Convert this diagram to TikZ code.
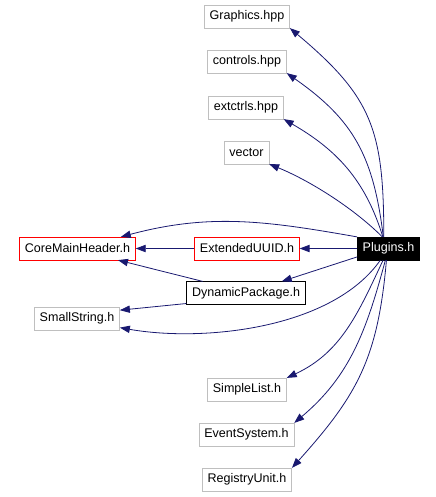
\documentclass[tikz,border=0pt]{standalone}
\usepackage{fontspec}
\setmainfont{Liberation Sans}
\usetikzlibrary{arrows.meta}

\definecolor{edgeblue}{RGB}{25,25,112}
\definecolor{boxgray}{RGB}{191,191,191}

\begin{document}
\begin{tikzpicture}[x=0.75pt, y=0.75pt,
    >={Triangle[length=7.5pt, width=5.5pt]},
    file/.style={draw=boxgray, font=\fontsize{9.4}{11}\selectfont,
      inner xsep=4pt, inner ysep=0pt, minimum height=17pt},
    redfile/.style={file, draw=red},
    blackfile/.style={file, draw=black},
    mainfile/.style={file, draw=black, fill=black, text=white},
    dep/.style={->, edgeblue, line width=0.6pt}]
  \useasboundingbox (0,0) rectangle (436,-497);
  % Headers included by Plugins.h
  \node[file] (graphics) at (247,-16.5) {Graphics.hpp};
  \node[file] (controls) at (247,-61.5) {controls.hpp};
  \node[file] (extctrls) at (246,-107.5) {extctrls.hpp};
  \node[file] (vector) at (246.5,-152.5) {vector};
  \node[redfile] (coremain) at (77.5,-248.5) {CoreMainHeader.h};
  \node[redfile] (extuuid) at (247,-248.5) {ExtendedUUID.h};
  \node[mainfile] (plugins) at (388.5,-248.5) {Plugins.h};
  \node[blackfile] (dynpkg) at (246,-293) {DynamicPackage.h};
  \node[file] (smallstr) at (77,-318.5) {SmallString.h};
  \node[file] (simplelist) at (247,-389.5) {SimpleList.h};
  \node[file] (eventsys) at (246.5,-434.5) {EventSystem.h};
  \node[file] (registry) at (247,-479.5) {RegistryUnit.h};
  % Upper fan
  \draw[dep] (plugins.112) to[out=90, in=-40, looseness=1.2] (graphics.south east);
  \draw[dep] (plugins.114) to[out=97, in=-35, looseness=1.1] (controls.south east);
  \draw[dep] (plugins.116) to[out=107, in=-30] (extctrls.south east);
  \draw[dep] (plugins.118) to[out=135, in=-22, looseness=0.8] (vector.south east);
  % Middle row
  \draw[dep] (plugins.north west) to[out=170, in=15] (coremain.15);
  \draw[dep] (plugins) -- (extuuid);
  \draw[dep] (extuuid) -- (coremain);
  \draw[dep] (plugins.195) -- (dynpkg.18);
  \draw[dep] (dynpkg.165) -- (coremain.-16);
  \draw[dep] (dynpkg.190) -- (smallstr.11);
  \draw[dep] (plugins.-125) to[out=-125, in=-10, looseness=0.8] (smallstr.-12);
  % Lower fan
  \draw[dep] (plugins.-115) to[out=-115, in=25] (simplelist.north east);
  \draw[dep] (plugins.-105) to[out=-105, in=40] (eventsys.north east);
  \draw[dep] (plugins.-100) to[out=-95, in=48, looseness=1.1] (registry.north east);
\end{tikzpicture}
\end{document}
